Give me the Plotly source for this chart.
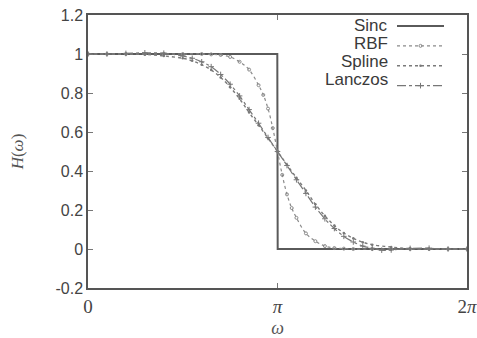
import numpy as np
import plotly.graph_objects as go

# frequency samples in units of pi
w_sinc = [0, 0.999, 1.001, 2.0]
h_sinc = [1, 1, 0, 0]

w_rbf = [0, 0.1, 0.2, 0.3, 0.4, 0.5, 0.6, 0.65, 0.7, 0.75, 0.8, 0.85, 0.9, 0.925, 0.95, 0.975,
         1.0, 1.025, 1.05, 1.075, 1.1, 1.15, 1.2, 1.25, 1.3, 1.35, 1.4, 1.5, 1.6, 1.7, 1.8, 1.9, 2.0]
h_rbf = [1, 1, 1, 1, 1, 1, 1.0, 0.998, 0.995, 0.985, 0.96, 0.92, 0.84, 0.79, 0.72, 0.62,
         0.5, 0.38, 0.28, 0.21, 0.16, 0.08, 0.04, 0.015, 0.005, 0.002, 0, 0, 0, 0, 0, 0, 0]

w_spline = [0, 0.1, 0.2, 0.3, 0.4, 0.5, 0.55, 0.6, 0.65, 0.7, 0.75, 0.8, 0.85, 0.9, 0.95,
            1.0, 1.05, 1.1, 1.15, 1.2, 1.25, 1.3, 1.35, 1.4, 1.45, 1.5, 1.6, 1.7, 1.8, 1.9, 2.0]
h_spline = [1, 1, 1, 0.998, 0.99, 0.978, 0.965, 0.945, 0.918, 0.88, 0.83, 0.77, 0.70, 0.635, 0.568,
            0.5, 0.432, 0.365, 0.30, 0.23, 0.17, 0.12, 0.082, 0.055, 0.035, 0.022, 0.01, 0.002, 0, 0, 0]

w_lanczos = [0, 0.1, 0.2, 0.3, 0.4, 0.5, 0.55, 0.6, 0.65, 0.7, 0.75, 0.8, 0.85, 0.9, 0.95,
             1.0, 1.05, 1.1, 1.15, 1.2, 1.25, 1.3, 1.35, 1.4, 1.45, 1.5, 1.55, 1.6, 1.7, 1.8, 1.9, 2.0]
h_lanczos = [1, 1.0, 1.003, 1.006, 1.004, 0.99, 0.978, 0.96, 0.935, 0.895, 0.845, 0.785, 0.715, 0.645, 0.572,
             0.5, 0.428, 0.355, 0.285, 0.215, 0.155, 0.105, 0.065, 0.036, 0.015, 0.004, -0.006, -0.005, 0.003, 0.004, 0, 0]

y_ticks = [-0.2, 0, 0.2, 0.4, 0.6, 0.8, 1.0, 1.2]
y_ticktext = ["-0.2", "0", "0.2", "0.4", "0.6", "0.8", "1", "1.2"]
x_ticks_pi = [0, 1, 2]
x_ticktext = ["0", "<i>π</i>", "2<i>π</i>"]
names = ["Sinc", "RBF", "Spline", "Lanczos"]

PI = np.pi
def sc(w):
    return [v * PI for v in w]

L, R, T, B = 88, 10, 15, 50
W, H = 477, 338
pw, ph = W - L - R, H - T - B

fig = go.Figure()
fig.add_trace(go.Scatter(x=sc(w_sinc), y=h_sinc, mode="lines", name=" ",
                         line=dict(color="#5a5a5a", width=2)))
fig.add_trace(go.Scatter(x=sc(w_rbf), y=h_rbf, mode="lines+markers", name=" ",
                         line=dict(color="#8a8a8a", width=1.2, dash="dot", shape="spline"),
                         marker=dict(symbol="circle-open", size=3, color="#8a8a8a")))
fig.add_trace(go.Scatter(x=sc(w_spline), y=h_spline, mode="lines+markers", name=" ",
                         line=dict(color="#7a7a7a", width=1.4, dash="dot", shape="spline"),
                         marker=dict(symbol="circle", size=2.5, color="#7a7a7a")))
fig.add_trace(go.Scatter(x=sc(w_lanczos), y=h_lanczos, mode="lines+markers", name=" ",
                         line=dict(color="#777777", width=1.2, dash="dashdot", shape="spline"),
                         marker=dict(symbol="cross-thin-open", size=4, color="#777777",
                                     line=dict(width=1, color="#777777"))))

# legend text labels (right-aligned, left of the legend samples)
for i, n in enumerate(names):
    px_y = 26 + i * 17.7
    fig.add_annotation(x=(390 - L) / pw, y=1 - (px_y - T) / ph, xref="paper", yref="paper", text=n,
                       showarrow=False, xanchor="right", yanchor="middle",
                       font=dict(family="Liberation Sans, Arial", size=17, color="#3a3a3a"))

fig.update_layout(
    width=W, height=H,
    margin=dict(l=L, r=R, t=T, b=B, autoexpand=False),
    paper_bgcolor="white", plot_bgcolor="white",
    showlegend=True,
    legend=dict(x=(392 - L) / pw, y=1 + 4 / ph, xanchor="left", yanchor="top",
                bgcolor="rgba(0,0,0,0)", itemwidth=47, tracegroupgap=0,
                font=dict(size=13), itemclick=False),
    xaxis=dict(range=[0, 2 * PI], tickvals=[v * PI for v in x_ticks_pi], ticktext=x_ticktext,
               automargin=False,
               showgrid=False, zeroline=False, showline=True, linecolor="#555555", linewidth=1.5,
               mirror="allticks", ticks="inside", ticklen=5, tickcolor="#777777",
               tickfont=dict(family="Liberation Serif", size=19, color="#444444"),
               title=dict(text="<i>ω</i>", font=dict(family="Liberation Serif", size=18, color="#555555"),
                          standoff=11)),
    yaxis=dict(range=[-0.2, 1.2], tickvals=y_ticks, ticktext=y_ticktext,
               automargin=False,
               showgrid=False, zeroline=False, showline=True, linecolor="#555555", linewidth=1.5,
               mirror="allticks", ticks="inside", ticklen=5, tickcolor="#777777",
               tickfont=dict(family="Liberation Sans, Arial", size=16, color="#444444"),
               title=dict(text="<i>H</i>(<i>ω</i>)", font=dict(family="Liberation Serif", size=17, color="#555555"),
                          standoff=28)),
)

fig.write_html("out.html", config={"displayModeBar": False},
               post_script="document.body.style.margin='0';document.body.style.overflow='hidden';")
